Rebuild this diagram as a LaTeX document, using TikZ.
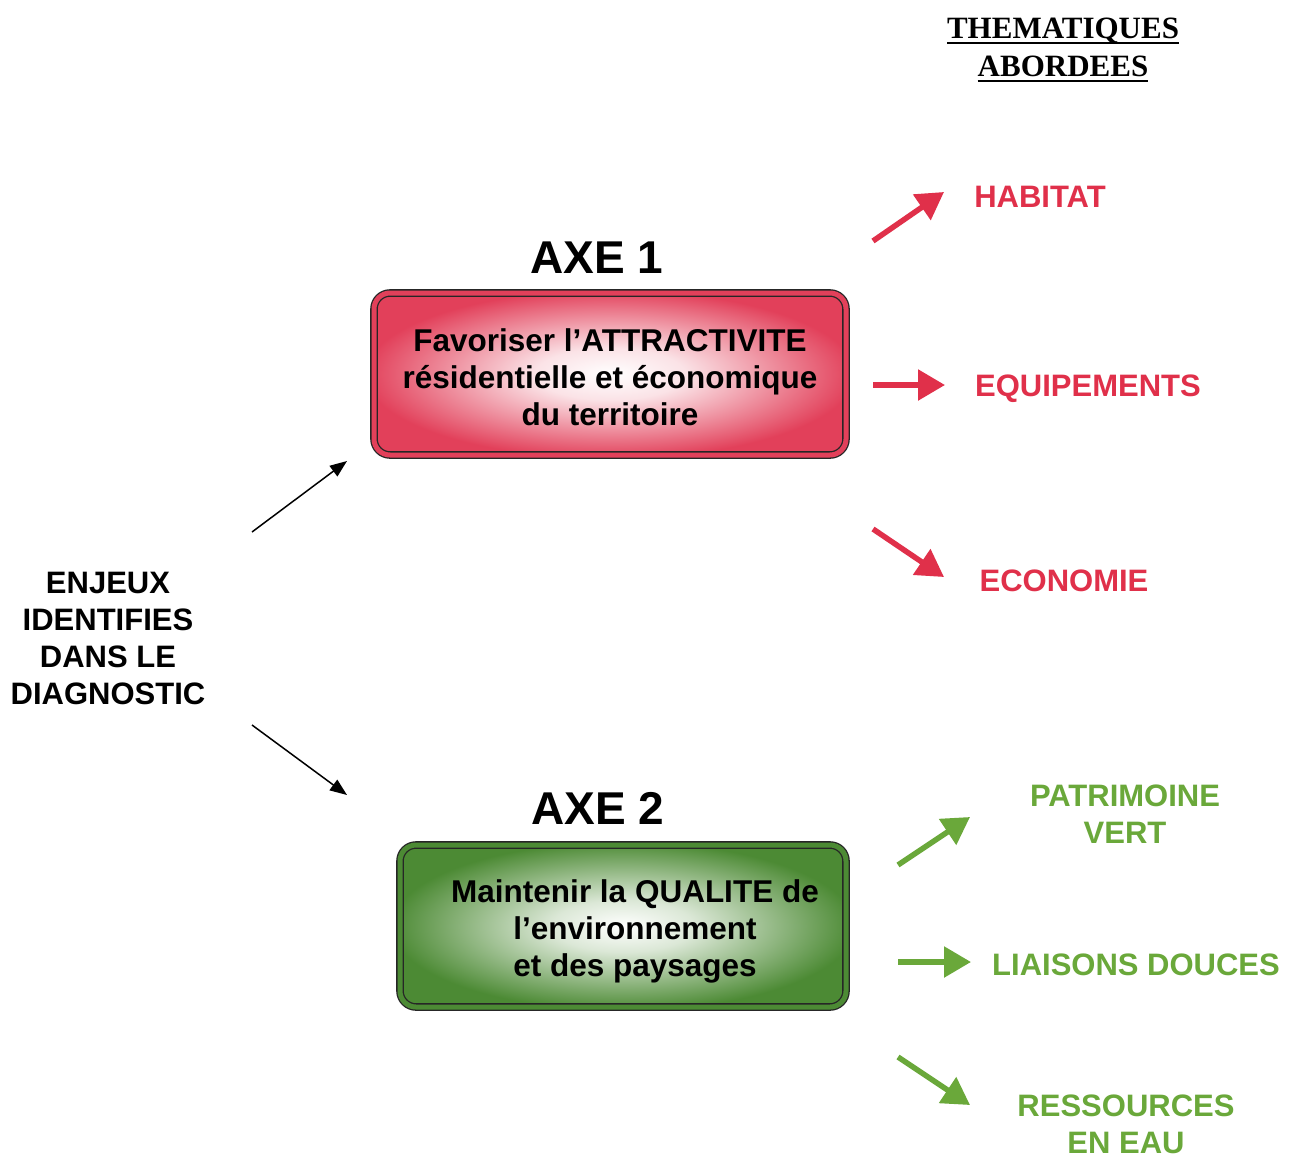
\documentclass[tikz,border=0pt]{standalone}
\usepackage{fontspec}
\setmainfont{Liberation Sans}
\newfontfamily\titleserif{Liberation Serif}
\usetikzlibrary{arrows.meta}
\definecolor{redtxt}{HTML}{E0304A}
\definecolor{greentxt}{HTML}{6AA83A}
\definecolor{boxred}{HTML}{E2405A}
\definecolor{boxgreen}{HTML}{4C8A34}
\pgfdeclareradialshading{redglow}{\pgfpoint{0bp}{0bp}}{color(0bp)=(white); color(8bp)=(white!85!boxred); color(26bp)=(boxred); color(50bp)=(boxred)}
\pgfdeclareradialshading{greenglow}{\pgfpoint{0bp}{0bp}}{color(0bp)=(white); color(8bp)=(white!80!boxgreen); color(26bp)=(boxgreen); color(50bp)=(boxgreen)}
\newcommand\ulbox[1]{\setbox0\hbox{#1}\rlap{\raisebox{-6pt}{\rule{\wd0}{2.5pt}}}\box0}
\begin{document}
\begin{tikzpicture}[x=1pt,y=-1pt,
  bigtxt/.style={font=\bfseries\fontsize{31}{37}\selectfont, align=center, inner sep=0pt},
  boxtxt/.style={font=\bfseries\fontsize{31.5}{37}\selectfont, align=center, inner sep=0pt},
  axetxt/.style={font=\bfseries\fontsize{46}{50}\selectfont, inner sep=0pt},
  axebox/.style={rounded corners=16pt, draw=black!85, line width=1.3pt, double distance=5pt, inner sep=0pt, minimum height=162pt},
  thinarrow/.style={line width=1.5pt, -{Triangle[length=17pt,width=13pt]}},
  redarrow/.style={draw=redtxt, line width=5.5pt, -{Triangle[length=27pt,width=30pt]}},
  greenarrow/.style={draw=greentxt, line width=5.5pt, -{Triangle[length=27pt,width=30pt]}}
]
\useasboundingbox[fill=white] (0,0) rectangle (1289,1159);

% title
\node[font=\titleserif\bfseries\fontsize{31}{38}\selectfont, align=center, inner sep=0pt] (title) at (1063,50) {\ulbox{THEMATIQUES}\\\ulbox{ABORDEES}};

% left text
\node[bigtxt] (enjeux) at (108,638) {ENJEUX\\IDENTIFIES\\DANS LE\\DIAGNOSTIC};

% axes
\node[axetxt] (axe1) at (597,258) {AXE 1};
\node[axebox, shading=redglow, double=boxred, minimum width=472pt,
  label={[boxtxt, yshift=-3pt]center:Favoriser l’ATTRACTIVITE\\résidentielle et économique\\du territoire}] (box1) at (610,374) {};

\node[axetxt] (axe2) at (598,808) {AXE 2};
\node[axebox, shading=greenglow, double=boxgreen, minimum width=446pt,
  label={[boxtxt, xshift=12pt, yshift=-5pt]center:Maintenir la QUALITE de\\l’environnement\\et des paysages}] (box2) at (623,926) {};

% black arrows
\coordinate (a1s) at (252,532); \coordinate (a1e) at (347,461);
\coordinate (a2s) at (252,725); \coordinate (a2e) at (347,795);
\draw[thinarrow] (a1s) -- (a1e);
\draw[thinarrow] (a2s) -- (a2e);

% red themes
\node[bigtxt, text=redtxt] (habitat) at (1040,197) {HABITAT};
\node[bigtxt, text=redtxt] (equip) at (1088,389) {EQUIPEMENTS};
\node[bigtxt, text=redtxt] (eco) at (1064,581) {ECONOMIE};
\coordinate (r1s) at (873,241); \coordinate (r1e) at (944,192);
\coordinate (r2s) at (873,385); \coordinate (r2e) at (945,385);
\coordinate (r3s) at (873,529); \coordinate (r3e) at (944,577);
\draw[redarrow] (r1s) -- (r1e);
\draw[redarrow] (r2s) -- (r2e);
\draw[redarrow] (r3s) -- (r3e);

% green themes
\node[bigtxt, text=greentxt] (patri) at (1125,814) {PATRIMOINE\\VERT};
\node[bigtxt, text=greentxt] (liaisons) at (1136,965) {LIAISONS DOUCES};
\node[bigtxt, text=greentxt] (eau) at (1126,1124) {RESSOURCES\\EN EAU};
\coordinate (g1s) at (898,865); \coordinate (g1e) at (970,817);
\coordinate (g2s) at (898,962); \coordinate (g2e) at (971,962);
\coordinate (g3s) at (898,1057); \coordinate (g3e) at (970,1105);
\draw[greenarrow] (g1s) -- (g1e);
\draw[greenarrow] (g2s) -- (g2e);
\draw[greenarrow] (g3s) -- (g3e);
\end{tikzpicture}
\end{document}
